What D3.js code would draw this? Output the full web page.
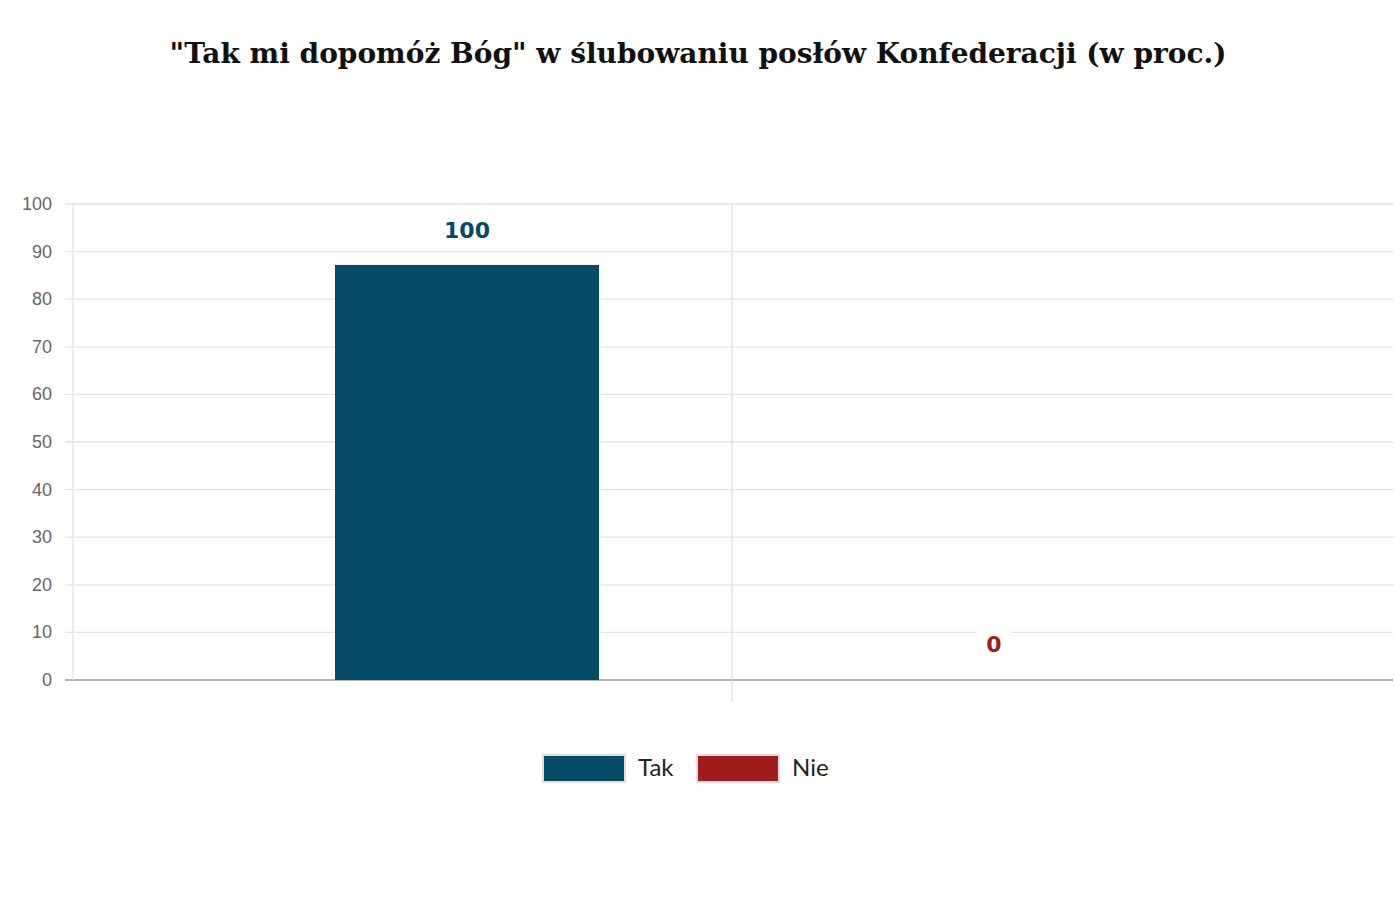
<!DOCTYPE html>
<html>
<head>
<meta charset="utf-8">
<script src="https://cdn.jsdelivr.net/npm/d3@7"></script>
<style>
body { margin: 0; background: #fff; }
</style>
</head>
<body>
<svg id="chart" width="1396" height="910"></svg>
<script>
var series = ["Tak", "Nie"];
var labelValues = [100, 0];
// drawn bar heights as seen in the picture
var barValues = [87.2, 0];
var colors = ["#054a66", "#a01c1f"];
var yTicks = [0, 10, 20, 30, 40, 50, 60, 70, 80, 90, 100];

var svg = d3.select("#chart");
var pLeft = 73, pRight = 1393, pTop = 204, pBottom = 680;

svg.append("text")
    .attr("x", 698).attr("y", 63)
    .attr("text-anchor", "middle")
    .attr("font-family", "DejaVu Serif, serif")
    .attr("font-weight", "bold")
    .attr("font-size", "28px")
    .attr("fill", "#111")
    .text('"Tak mi dopomóż Bóg" w ślubowaniu posłów Konfederacji (w proc.)');

var x = d3.scalePoint().domain(series).range([467, 994]);
var y = d3.scaleLinear().domain([0, 100]).range([pBottom, pTop]);

// grid
svg.append("g").selectAll("line").data(yTicks).enter().append("line")
    .attr("x1", pLeft - 8).attr("x2", pRight)
    .attr("y1", function (d) { return y(d); }).attr("y2", function (d) { return y(d); })
    .attr("stroke", function (d) { return d === 0 ? "#999" : "#e3e3e3"; })
    .attr("stroke-width", 1.3);

svg.append("g").selectAll("line").data([pLeft, 732]).enter().append("line")
    .attr("x1", function (d) { return d; }).attr("x2", function (d) { return d; })
    .attr("y1", pTop).attr("y2", function (d, i) { return i ? pBottom + 22 : pBottom; })
    .attr("stroke", function (d, i) { return i ? "#ddd" : "#e3e3e3"; })
    .attr("stroke-width", 1.3);

svg.append("g").selectAll("text").data(yTicks).enter().append("text")
    .attr("x", 52).attr("y", function (d) { return y(d) + 6; })
    .attr("text-anchor", "end")
    .attr("font-family", "Liberation Sans, Arial, sans-serif")
    .attr("font-size", "18px").attr("fill", "#666")
    .text(function (d) { return d; });

var bw = 264;
svg.append("g").selectAll("rect").data(series).enter().append("rect")
    .attr("x", function (d) { return x(d) - bw / 2; })
    .attr("width", bw)
    .attr("y", function (d, i) { return y(barValues[i]); })
    .attr("height", function (d, i) { return pBottom - y(barValues[i]); })
    .attr("fill", function (d, i) { return colors[i]; });

// value labels
var lab = svg.append("g").selectAll("g").data(series).enter().append("g")
    .attr("transform", function (d, i) {
        var cy = i === 0 ? 230 : 644;
        return "translate(" + x(d) + "," + cy + ")";
    });
lab.append("rect")
    .attr("x", function (d, i) { return i === 0 ? -34 : -17; })
    .attr("width", function (d, i) { return i === 0 ? 68 : 34; })
    .attr("y", -19).attr("height", 38)
    .attr("fill", "#fff");
lab.append("text")
    .attr("y", 8).attr("text-anchor", "middle")
    .attr("font-family", "DejaVu Sans, sans-serif").attr("font-weight", "bold")
    .attr("font-size", "22px")
    .attr("fill", function (d, i) { return colors[i]; })
    .text(function (d, i) { return labelValues[i]; });

// legend
var legX = [543, 697];
var leg = svg.append("g").selectAll("g").data(series).enter().append("g")
    .attr("transform", function (d, i) { return "translate(" + legX[i] + ",755)"; });
leg.append("rect")
    .attr("width", 82).attr("height", 27)
    .attr("fill", function (d, i) { return colors[i]; })
    .attr("stroke", "#ddd").attr("stroke-width", 2);
leg.append("text")
    .attr("x", 95).attr("y", 21)
    .attr("font-family", "Lato, sans-serif").attr("font-size", "24px")
    .attr("fill", "#222")
    .text(function (d) { return d; });
</script>
</body>
</html>
